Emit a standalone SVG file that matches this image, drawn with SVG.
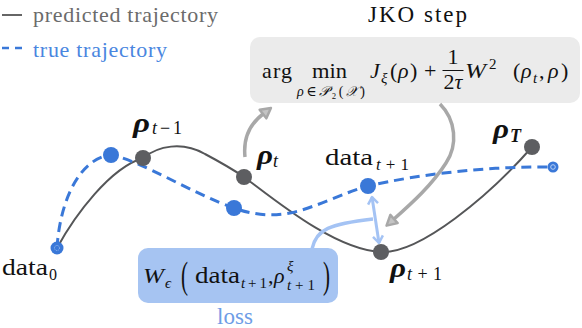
<svg xmlns="http://www.w3.org/2000/svg" width="582" height="328" viewBox="0 0 582 328">
<defs>
<style>
text{font-family:"Liberation Serif","DejaVu Serif",serif;fill:#111}
.m{font-size:22px}
.s{font-size:15px}
.i{font-style:italic}
.rho{font-style:italic;font-weight:bold;font-size:27px}
.sub{font-size:18px}
.gdot{fill:#5d5e61}
.bdot{fill:#3a78d8}
.pred{fill:none;stroke:#555658;stroke-width:2}
.true{fill:none;stroke:#3a78d8;stroke-width:3;stroke-dasharray:10 6}
.garr{fill:none;stroke:#a8a8a8;stroke-width:3.5}
.barr{fill:none;stroke:#a4c3f4;stroke-width:3}
</style>
<marker id="gh" viewBox="-12 -8 14 16" markerWidth="14" markerHeight="16" refX="-10" refY="0" orient="auto" markerUnits="userSpaceOnUse">
<path d="M0,0 L-10,-5.5 L-10,5.5 Z" fill="#c4c4c4" stroke="#a8a8a8" stroke-width="2.5" stroke-linejoin="round"/>
</marker>
<marker id="bh" viewBox="-10 -8 12 16" markerWidth="12" markerHeight="16" refX="0" refY="0" orient="auto-start-reverse" markerUnits="userSpaceOnUse">
<path d="M-7,-5 L0,0 L-7,5" fill="none" stroke="#a4c3f4" stroke-width="2.5" stroke-linejoin="round"/>
</marker>
</defs>

<g id="legend">
<line x1="2" y1="15" x2="22" y2="15" stroke="#666" stroke-width="2"/>
<text x="33" y="22" font-size="22" style="fill:#6b6b6b" textLength="185" lengthAdjust="spacing">predicted trajectory</text>
<line x1="2" y1="48" x2="9" y2="48" stroke="#3a78d8" stroke-width="2.5"/>
<line x1="15" y1="48" x2="22" y2="48" stroke="#3a78d8" stroke-width="2.5"/>
<text x="33" y="57" font-size="22" style="fill:#4a86e0" textLength="134" lengthAdjust="spacing">true trajectory</text>
</g>

<g id="jko">
<text x="368" y="22" font-size="23" textLength="99" lengthAdjust="spacing">JKO step</text>
<rect x="250" y="37" width="330" height="66" rx="10" fill="#ebebeb"/>
<text class="m" x="262" y="78" textLength="30" lengthAdjust="spacing">arg</text>
<text class="m" x="312" y="78" textLength="35" lengthAdjust="spacingAndGlyphs">min</text>
<text x="297" y="95.5" font-size="14" textLength="68" lengthAdjust="spacing"><tspan class="i">ρ</tspan>∈<tspan class="i">𝒫</tspan>₂(<tspan class="i">𝒳</tspan>)</text>
<text class="m i" x="370" y="78">J</text>
<text class="s i" x="381" y="83">ξ</text>
<text class="m" x="390" y="78">(</text>
<text class="m i" x="398" y="78">ρ</text>
<text class="m" x="410" y="78">)</text>
<text class="m" x="424" y="78">+</text>
<text class="m" x="453" y="64" text-anchor="middle">1</text>
<line x1="442.5" y1="70.5" x2="463.5" y2="70.5" stroke="#111" stroke-width="1"/>
<text class="m" x="453" y="89" text-anchor="middle">2<tspan class="i">τ</tspan></text>
<text class="m i" x="465" y="78" textLength="21" lengthAdjust="spacingAndGlyphs">W</text>
<text class="s" x="489" y="69">2</text>
<text class="m" x="513" y="78">(</text>
<text class="m i" x="521" y="78">ρ</text>
<text class="s i" x="533" y="83">t</text>
<text class="m" x="539" y="78">,</text>
<text class="m i" x="548" y="78">ρ</text>
<text class="m" x="561" y="78">)</text>
</g>

<g id="connectors">
<path class="pred" d="M57,248 C75,215 110,168 143,158 C158,146 182,141 205,154 C220,162 231,168 244,177 C275,200 335,250 381,252 C420,254 490,195 532,147"/>
<path class="true" d="M57,248 C60,200 80,158 111,155 C140,160 195,195 234,208 C250,214 270,217 290,213 C315,208 345,192 368,186 C420,174 490,166 553,167"/>
<path class="garr" d="M245,157 C243,138 250,124 263,114" marker-end="url(#gh)"/>
<path class="garr" d="M440,104 C456,120 458,145 446,163 C432,185 412,203 394,219" marker-end="url(#gh)"/>
<path class="barr" d="M372,197 L379,243" marker-start="url(#bh)" marker-end="url(#bh)"/>
<path class="barr" style="stroke-width:3.5" d="M312,249 C316,229 330,224 373,219"/>
</g>

<g id="data0">
<circle cx="57" cy="248" r="6.5" class="bdot"/>
<circle cx="57" cy="248" r="2.5" fill="none" stroke="#9ec0f2" stroke-width="1" stroke-dasharray="1 1"/>
<text x="2" y="275" font-size="24" textLength="46" lengthAdjust="spacingAndGlyphs">data</text>
<text x="49" y="280" font-size="16">0</text>
</g>

<g id="true_tm1"><circle cx="111" cy="155" r="8" class="bdot"/></g>

<g id="rho_tm1">
<circle cx="143" cy="158" r="8" class="gdot"/>
<text class="rho" x="133" y="132" textLength="17" lengthAdjust="spacingAndGlyphs">ρ</text>
<text class="sub" x="152" y="134" textLength="30" lengthAdjust="spacing"><tspan class="i">t</tspan>−1</text>
</g>

<g id="rho_t">
<circle cx="244" cy="177" r="8" class="gdot"/>
<text class="rho" x="257" y="164" textLength="16" lengthAdjust="spacingAndGlyphs">ρ</text>
<text class="sub i" x="273" y="167">t</text>
</g>

<g id="true_t"><circle cx="234" cy="208" r="8" class="bdot"/></g>

<g id="data_tp1">
<circle cx="368" cy="186" r="8" class="bdot"/>
<text x="325" y="165" font-size="24" textLength="48" lengthAdjust="spacingAndGlyphs">data</text>
<text x="376" y="170" font-size="17" textLength="33" lengthAdjust="spacing"><tspan class="i">t</tspan>+1</text>
</g>

<g id="rho_tp1">
<circle cx="381" cy="252" r="8" class="gdot"/>
<text class="rho" x="390" y="277" textLength="16" lengthAdjust="spacingAndGlyphs">ρ</text>
<text class="sub" x="407" y="280" textLength="35" lengthAdjust="spacing"><tspan class="i">t</tspan>+1</text>
</g>

<g id="rho_T">
<circle cx="532" cy="147" r="8" class="gdot"/>
<text class="rho" x="493" y="138" textLength="16" lengthAdjust="spacingAndGlyphs">ρ</text>
<text class="sub i" x="510" y="142" style="font-weight:bold">T</text>
</g>

<g id="true_end">
<circle cx="553" cy="167" r="5.5" class="bdot"/>
<circle cx="553" cy="167" r="2.3" fill="none" stroke="#b8d0f5" stroke-width="1"/>
</g>

<g id="loss">
<rect x="138" y="248" width="200" height="55" rx="10" fill="#a6c4f2"/>
<text class="m i" x="143" y="283" textLength="21" lengthAdjust="spacingAndGlyphs">W</text>
<text class="s i" x="165" y="288">ϵ</text>
<text x="181" y="288" font-size="38" textLength="7" lengthAdjust="spacingAndGlyphs">(</text>
<text x="195" y="283" font-size="23" textLength="45" lengthAdjust="spacingAndGlyphs">data</text>
<text class="s" x="241" y="288" textLength="26" lengthAdjust="spacing"><tspan class="i">t</tspan>+1</text>
<text class="m" x="268" y="283">,</text>
<text class="m i" x="274" y="283">ρ</text>
<text class="s i" x="287" y="271">ξ</text>
<text class="s" x="287" y="290" textLength="28" lengthAdjust="spacing"><tspan class="i">t</tspan>+1</text>
<text x="323" y="288" font-size="38" textLength="7" lengthAdjust="spacingAndGlyphs">)</text>
<text x="235" y="324" font-size="23" text-anchor="middle" style="fill:#6e9de6">loss</text>
</g>
</svg>
